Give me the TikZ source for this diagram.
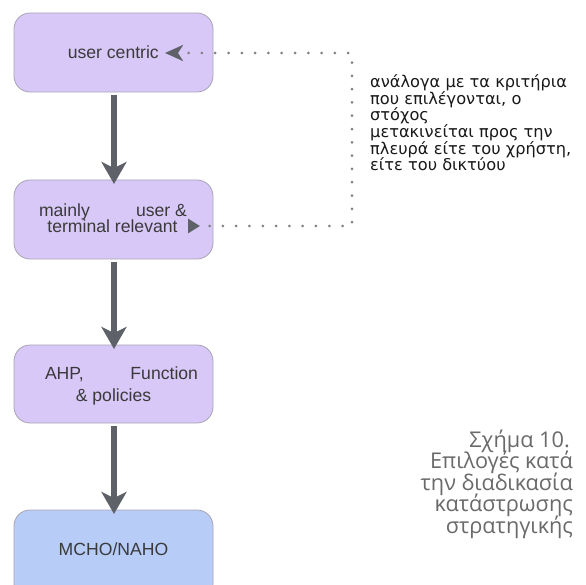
\documentclass[tikz,border=0pt]{standalone}
\usepackage{fontspec}
\setmainfont{Liberation Sans}
\newfontfamily\captionfont{Open Sans}
\newfontfamily\notefont{DejaVu Sans}
\usetikzlibrary{arrows.meta}
\definecolor{boxfill}{HTML}{D8C8F8}
\definecolor{boxfillblue}{HTML}{B8CCF8}
\definecolor{boxline}{HTML}{A8A4B4}
\definecolor{flowgrey}{HTML}{5F6168}
\definecolor{dotgrey}{HTML}{808088}
\definecolor{captiongrey}{HTML}{6A6A6A}
\definecolor{textdark}{HTML}{3A3A3A}
\tikzset{
  stagebox/.style={draw=boxline, line width=0.8pt, fill=boxfill, rounded corners=16pt},
  flow/.style={draw=flowgrey, line width=5.5pt, -{Stealth[length=22pt,width=25pt,inset=6pt]}},
  link/.style={draw=dotgrey, line width=3pt, line cap=round, dash pattern=on 0pt off 13.3pt},
  boxtext/.style={font=\fontsize{17.6}{17}\selectfont, text=textdark, inner sep=0pt},
  note/.style={font=\notefont\fontsize{16.2}{16.7}\selectfont, text=black!90, inner sep=0pt, align=left},
  caption/.style={font=\captionfont\fontsize{21.7}{21.5}\selectfont, text=captiongrey, inner sep=0pt, align=right}
}
\begin{document}
\begin{tikzpicture}[x=1pt,y=-1pt]
\useasboundingbox (0,0) rectangle (586,585);
\fill[white] (0,0) rectangle (586,585);
\begin{scope}
\clip (0,0) rectangle (586,585);
% stage boxes
\path[stagebox] (14,13) rectangle (213,92);
\path[stagebox] (14,180) rectangle (213,259);
\path[stagebox] (14,345) rectangle (213,423);
\path[stagebox, fill=boxfillblue] (14,510) rectangle (213,600);
\end{scope}
% box labels
\node[boxtext, anchor=base east] (uc) at (159,59) {user centric};
\node[boxtext, anchor=base] (ml1) at (113,217) {\makebox[148pt]{mainly\hfill user \&}};
\node[boxtext, anchor=base] (ml2) at (112.5,233) {terminal relevant};
\node[boxtext, anchor=base] (ah1) at (121.5,379) {\makebox[153pt]{AHP,\hfill Function}};
\node[boxtext, anchor=base] (ah2) at (113.5,401) {\& policies};
\node[boxtext, anchor=base] (mc) at (113.5,555) {MCHO/NAHO};
% flow arrows between stages
\coordinate (f1s) at (114,95);  \coordinate (f1e) at (114,184);
\coordinate (f2s) at (114,262); \coordinate (f2e) at (114,349);
\coordinate (f3s) at (114,426); \coordinate (f3e) at (114,514);
\draw[flow] (f1s) -- (f1e);
\draw[flow] (f2s) -- (f2e);
\draw[flow] (f3s) -- (f3e);
% dotted feedback link
\coordinate (lbot) at (188,226);
\coordinate (ltop) at (165,53);
\coordinate (cbot) at (352,226);
\coordinate (ctop) at (352,53);
\draw[link, {Triangle[reversed,length=12pt,width=14pt,color=flowgrey]}-{Stealth[length=18pt,width=16pt,inset=5pt,color=flowgrey]}]
  (lbot) -- (cbot) -- (ctop) -- (ltop);
% side note
\node[note, anchor=base west] (n1) at (370,87.5) {ανάλογα με τα κριτήρια};
\node[note, anchor=base west] (n2) at (370,104.2) {που επιλέγονται, ο};
\node[note, anchor=base west] (n3) at (370,120.9) {στόχος};
\node[note, anchor=base west] (n4) at (370,137.6) {μετακινείται προς την};
\node[note, anchor=base west] (n5) at (370,154.3) {πλευρά είτε του χρήστη,};
\node[note, anchor=base west] (n6) at (370,171) {είτε του δικτύου};
% caption
\node[caption, anchor=base east] (c1) at (570,447) {Σχήμα 10.};
\node[caption, anchor=base east] (c2) at (573,468.5) {Επιλογές κατά};
\node[caption, anchor=base east] (c3) at (573,490) {την διαδικασία};
\node[caption, anchor=base east] (c4) at (573,511.5) {κατάστρωσης};
\node[caption, anchor=base east] (c5) at (573,533) {στρατηγικής};
\end{tikzpicture}
\end{document}
